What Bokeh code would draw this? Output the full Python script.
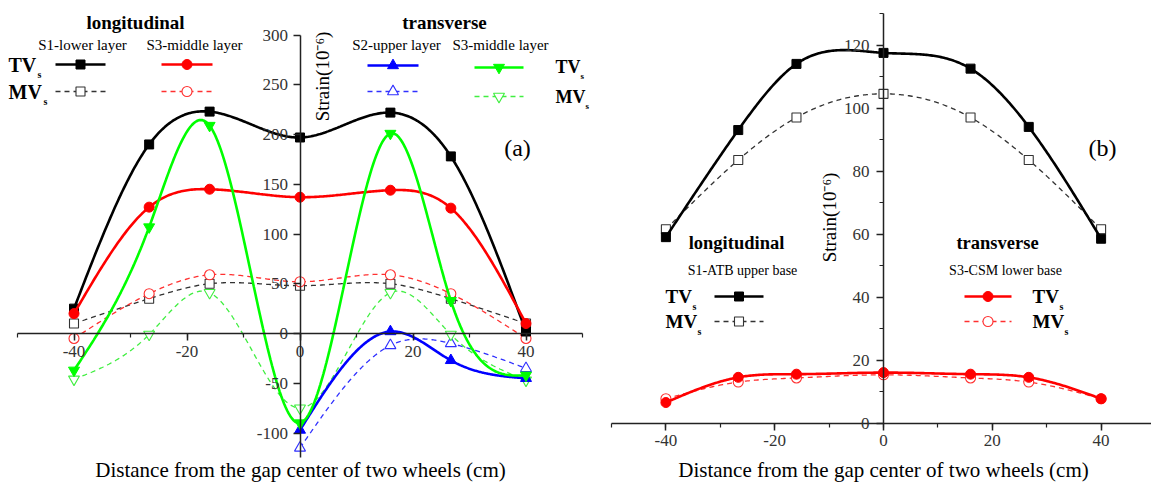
import numpy as np
from bokeh.plotting import figure
from bokeh.models import Range1d, SingleIntervalTicker, Label, PrintfTickFormatter
from bokeh.layouts import row
from bokeh.embed import file_html
from bokeh.resources import INLINE

# measuring positions across the gap between the two wheels (cm)
pos = [-40, -26.7, -16, 0, 16, 26.7, 40]
pos_s2 = [0, 16, 26.7, 40]

# (a) asphalt layers, strain in 1e-6
a_s1_tv = [25, 190, 223, 197, 222, 178, 2]
a_s1_mv = [10, 35, 50, 48, 50, 35, 10]
a_s3l_tv = [20, 127, 145, 137, 144, 126, 10]
a_s3l_mv = [-5, 40, 59, 52, 59, 40, -5]
a_s2_tv = [-97, 2, -27, -45]
a_s2_mv = [-115, -12, -10, -35]
a_s3t_tv = [-37, 107, 209, -90, 201, 33, -42]
a_s3t_mv = [-46, -1, 41, -75, 41, -1, -47]

# (b) base layers, strain in 1e-6
b_s1_tv = [59, 93, 114, 117.5, 112.5, 94, 58.5]
b_s1_mv = [61.5, 83.5, 97, 104.5, 97, 83.5, 61.5]
b_s3_tv = [6.5, 14.5, 15.5, 16, 15.5, 14.5, 7.7]
b_s3_mv = [7.7, 13, 14.3, 15.3, 14.3, 13, 7.7]

XLABEL = "Distance from the gap center of two wheels (cm)"
YLABEL = "Strain(10\u207b\u2076)"
FONT = "Liberation Serif"
H = 488


def spline(xs, ys, n=300):
    """Natural cubic spline through the points, for smooth connecting lines."""
    x = np.asarray(xs, float)
    y = np.asarray(ys, float)
    k = len(x)
    h = np.diff(x)
    A = np.zeros((k, k))
    r = np.zeros(k)
    A[0, 0] = A[-1, -1] = 1.0
    for i in range(1, k - 1):
        A[i, i - 1] = h[i - 1]
        A[i, i] = 2 * (h[i - 1] + h[i])
        A[i, i + 1] = h[i]
        r[i] = 3 * ((y[i + 1] - y[i]) / h[i] - (y[i] - y[i - 1]) / h[i - 1])
    c = np.linalg.solve(A, r)
    b = (y[1:] - y[:-1]) / h - h * (2 * c[:-1] + c[1:]) / 3
    d = (c[1:] - c[:-1]) / (3 * h)
    xx = np.linspace(x[0], x[-1], n)
    idx = np.clip(np.searchsorted(x, xx, side="right") - 1, 0, k - 2)
    t = xx - x[idx]
    return xx, y[idx] + b[idx] * t + c[idx] * t ** 2 + d[idx] * t ** 3


def make_fig(F, ybounds, yinterval, yminor):
    # the frame fills the whole canvas; both axes are pinned to the origin
    p = figure(frame_width=F["w"], frame_height=H, title=None,
               x_range=Range1d(F["x0"], F["x1"]), y_range=Range1d(F["y0"], F["y1"]),
               min_border=0, min_border_left=0, min_border_right=0,
               min_border_top=0, min_border_bottom=0,
               output_backend="svg", toolbar_location=None,
               outline_line_color=None, background_fill_color="white",
               border_fill_color="white")
    p.xgrid.visible = False
    p.ygrid.visible = False
    p.xaxis.ticker = SingleIntervalTicker(interval=20, num_minor_ticks=2)
    p.yaxis.ticker = SingleIntervalTicker(interval=yinterval, num_minor_ticks=yminor)
    p.xaxis.bounds = (-50, 50)
    p.yaxis.bounds = ybounds
    for ax in (p.xaxis[0], p.yaxis[0]):
        ax.fixed_location = 0
        ax.formatter = PrintfTickFormatter(format="%d")
        ax.axis_line_width = 1.5
        ax.axis_line_color = "#222222"
        ax.major_tick_line_color = "#222222"
        ax.major_tick_line_width = 1.5
        ax.minor_tick_line_color = "#222222"
        ax.minor_tick_line_width = 1.2
        ax.major_tick_in = 0
        ax.major_tick_out = 7
        ax.minor_tick_in = 0
        ax.minor_tick_out = 4
        ax.major_label_text_font = FONT
        ax.major_label_text_font_size = "17px"
        ax.major_label_text_color = "#333333"
        ax.major_label_standoff = 5
    return p


def cx(F, X):
    return F["x0"] + (X - F["left"]) * (F["x1"] - F["x0"]) / F["w"]


def cy(F, Y):
    return F["y1"] - Y * (F["y1"] - F["y0"]) / H


def txt(p, F, X, Y, s, size, bold=False, align="left", angle=0.0):
    p.add_layout(Label(x=cx(F, X), y=cy(F, Y), text=s, text_font=FONT,
                       text_font_size=f"{size}px",
                       text_font_style="bold" if bold else "normal",
                       text_align=align, text_baseline="middle",
                       angle=angle, text_color="black"))


def series(p, xs, ys, color, marker, size, solid):
    xx, yy = spline(xs, ys)
    if solid:
        p.line(xx, yy, line_color=color, line_width=2.6)
        p.scatter(xs, ys, marker=marker, size=size, fill_color=color, line_color=color)
    else:
        p.line(xx, yy, line_color=color, line_width=1.3, line_dash="5 4")
        p.scatter(xs, ys, marker=marker, size=size, fill_color="white",
                  line_color=color, line_width=1.1)


def sample(p, F, X0, X1, Y, color, marker, size, solid):
    xs = [cx(F, X0), cx(F, X1)]
    ys = [cy(F, Y)] * 2
    xm = [cx(F, (X0 + X1) / 2)]
    if solid:
        p.line(xs, ys, line_color=color, line_width=2.6)
        p.scatter(xm, [ys[0]], marker=marker, size=size, fill_color=color, line_color=color)
    else:
        p.line(xs, ys, line_color=color, line_width=1.3, line_dash="5 4")
        p.scatter(xm, [ys[0]], marker=marker, size=size, fill_color="white",
                  line_color=color, line_width=1.1)


def vs_label(p, F, X, Y, head, size, sub_dx):
    txt(p, F, X, Y, head, size, bold=True)
    txt(p, F, X + sub_dx, Y + size * 0.5, "s", round(size * 0.5), bold=True)


BLACK, BLACK_MV = "#000000", "#333333"
RED, RED_MV = "#ff0000", "#ff3030"
BLUE, BLUE_MV = "#0000ff", "#3030ff"
GREEN, GREEN_MV = "#00ff00", "#40ee40"

# ---------------- (a) asphalt layers ----------------
SXA, SYA = 5.65, 0.995          # px per cm, px per microstrain
FA = dict(left=0, w=590, x0=-50 - 17 / SXA, x1=-50 + (590 - 17) / SXA,
          y0=-(H - 333) / SYA, y1=333 / SYA)
pa = make_fig(FA, (-125, 300), 50, 0)

series(pa, pos, a_s1_mv, BLACK_MV, "square", 9, False)
series(pa, pos, a_s3l_mv, RED_MV, "circle", 10, False)
series(pa, pos_s2, a_s2_mv, BLUE_MV, "triangle", 11, False)
series(pa, pos, a_s3t_mv, GREEN_MV, "inverted_triangle", 11, False)
series(pa, pos, a_s1_tv, BLACK, "square", 9, True)
series(pa, pos, a_s3l_tv, RED, "circle", 10, True)
series(pa, pos_s2, a_s2_tv, BLUE, "triangle", 11, True)
series(pa, pos, a_s3t_tv, GREEN, "inverted_triangle", 11, True)

txt(pa, FA, 135, 22, "longitudinal", 19, bold=True, align="center")
txt(pa, FA, 82, 44, "S1-lower layer", 15, align="center")
txt(pa, FA, 194, 44, "S3-middle layer", 15, align="center")
txt(pa, FA, 444, 22, "transverse", 19, bold=True, align="center")
txt(pa, FA, 396, 44, "S2-upper layer", 15, align="center")
txt(pa, FA, 500, 44, "S3-middle layer", 15, align="center")
vs_label(pa, FA, 8, 64, "TV", 20, 29)
vs_label(pa, FA, 8, 91, "MV", 20, 35)
vs_label(pa, FA, 555, 66, "TV", 18, 25)
vs_label(pa, FA, 555, 96, "MV", 18, 30)
sample(pa, FA, 55, 105, 64, BLACK, "square", 9, True)
sample(pa, FA, 161, 212, 64, RED, "circle", 10, True)
sample(pa, FA, 55, 105, 91, BLACK_MV, "square", 9, False)
sample(pa, FA, 161, 212, 91, RED_MV, "circle", 10, False)
sample(pa, FA, 367, 418, 65, BLUE, "triangle", 11, True)
sample(pa, FA, 474, 523, 67, GREEN, "inverted_triangle", 11, True)
sample(pa, FA, 367, 418, 91, BLUE_MV, "triangle", 11, False)
sample(pa, FA, 474, 523, 96, GREEN_MV, "inverted_triangle", 11, False)
txt(pa, FA, 517, 147, "(a)", 24, align="center")
txt(pa, FA, 322, 76, YLABEL, 19, align="center", angle=np.pi / 2)
txt(pa, FA, 300, 469, XLABEL, 21, align="center")

# ---------------- (b) base layers ----------------
SXB, SYB = 5.44, 3.15
FB = dict(left=590, w=561, x0=-50 - 21 / SXB, x1=-50 + (561 - 21) / SXB,
          y0=-(H - 422.5) / SYB, y1=422.5 / SYB)
pb = make_fig(FB, (0, 130), 20, 2)
pb.yaxis.major_label_standoff = 7

series(pb, pos, b_s1_mv, BLACK_MV, "square", 9, False)
series(pb, pos, b_s3_mv, RED_MV, "circle", 10, False)
series(pb, pos, b_s1_tv, BLACK, "square", 9, True)
series(pb, pos, b_s3_tv, RED, "circle", 10, True)

txt(pb, FB, 736, 242, "longitudinal", 18.5, bold=True, align="center")
txt(pb, FB, 742, 270, "S1-ATB upper base", 14, align="center")
txt(pb, FB, 997, 242, "transverse", 18.5, bold=True, align="center")
txt(pb, FB, 1005, 270, "S3-CSM lower base", 14, align="center")
vs_label(pb, FB, 665, 296, "TV", 19, 27)
vs_label(pb, FB, 665, 321, "MV", 19, 32)
vs_label(pb, FB, 1032, 296, "TV", 19, 27)
vs_label(pb, FB, 1032, 321, "MV", 19, 32)
sample(pb, FB, 714, 763, 296, BLACK, "square", 9, True)
sample(pb, FB, 714, 763, 321, BLACK_MV, "square", 9, False)
sample(pb, FB, 964, 1011, 296, RED, "circle", 10, True)
sample(pb, FB, 964, 1011, 321, RED_MV, "circle", 10, False)
txt(pb, FB, 1102, 147, "(b)", 24, align="center")
txt(pb, FB, 829, 217, YLABEL, 19, align="center", angle=np.pi / 2)
txt(pb, FB, 883, 469, XLABEL, 21, align="center")

layout = row(pa, pb)
open("out.html", "w").write(file_html(layout, INLINE))
